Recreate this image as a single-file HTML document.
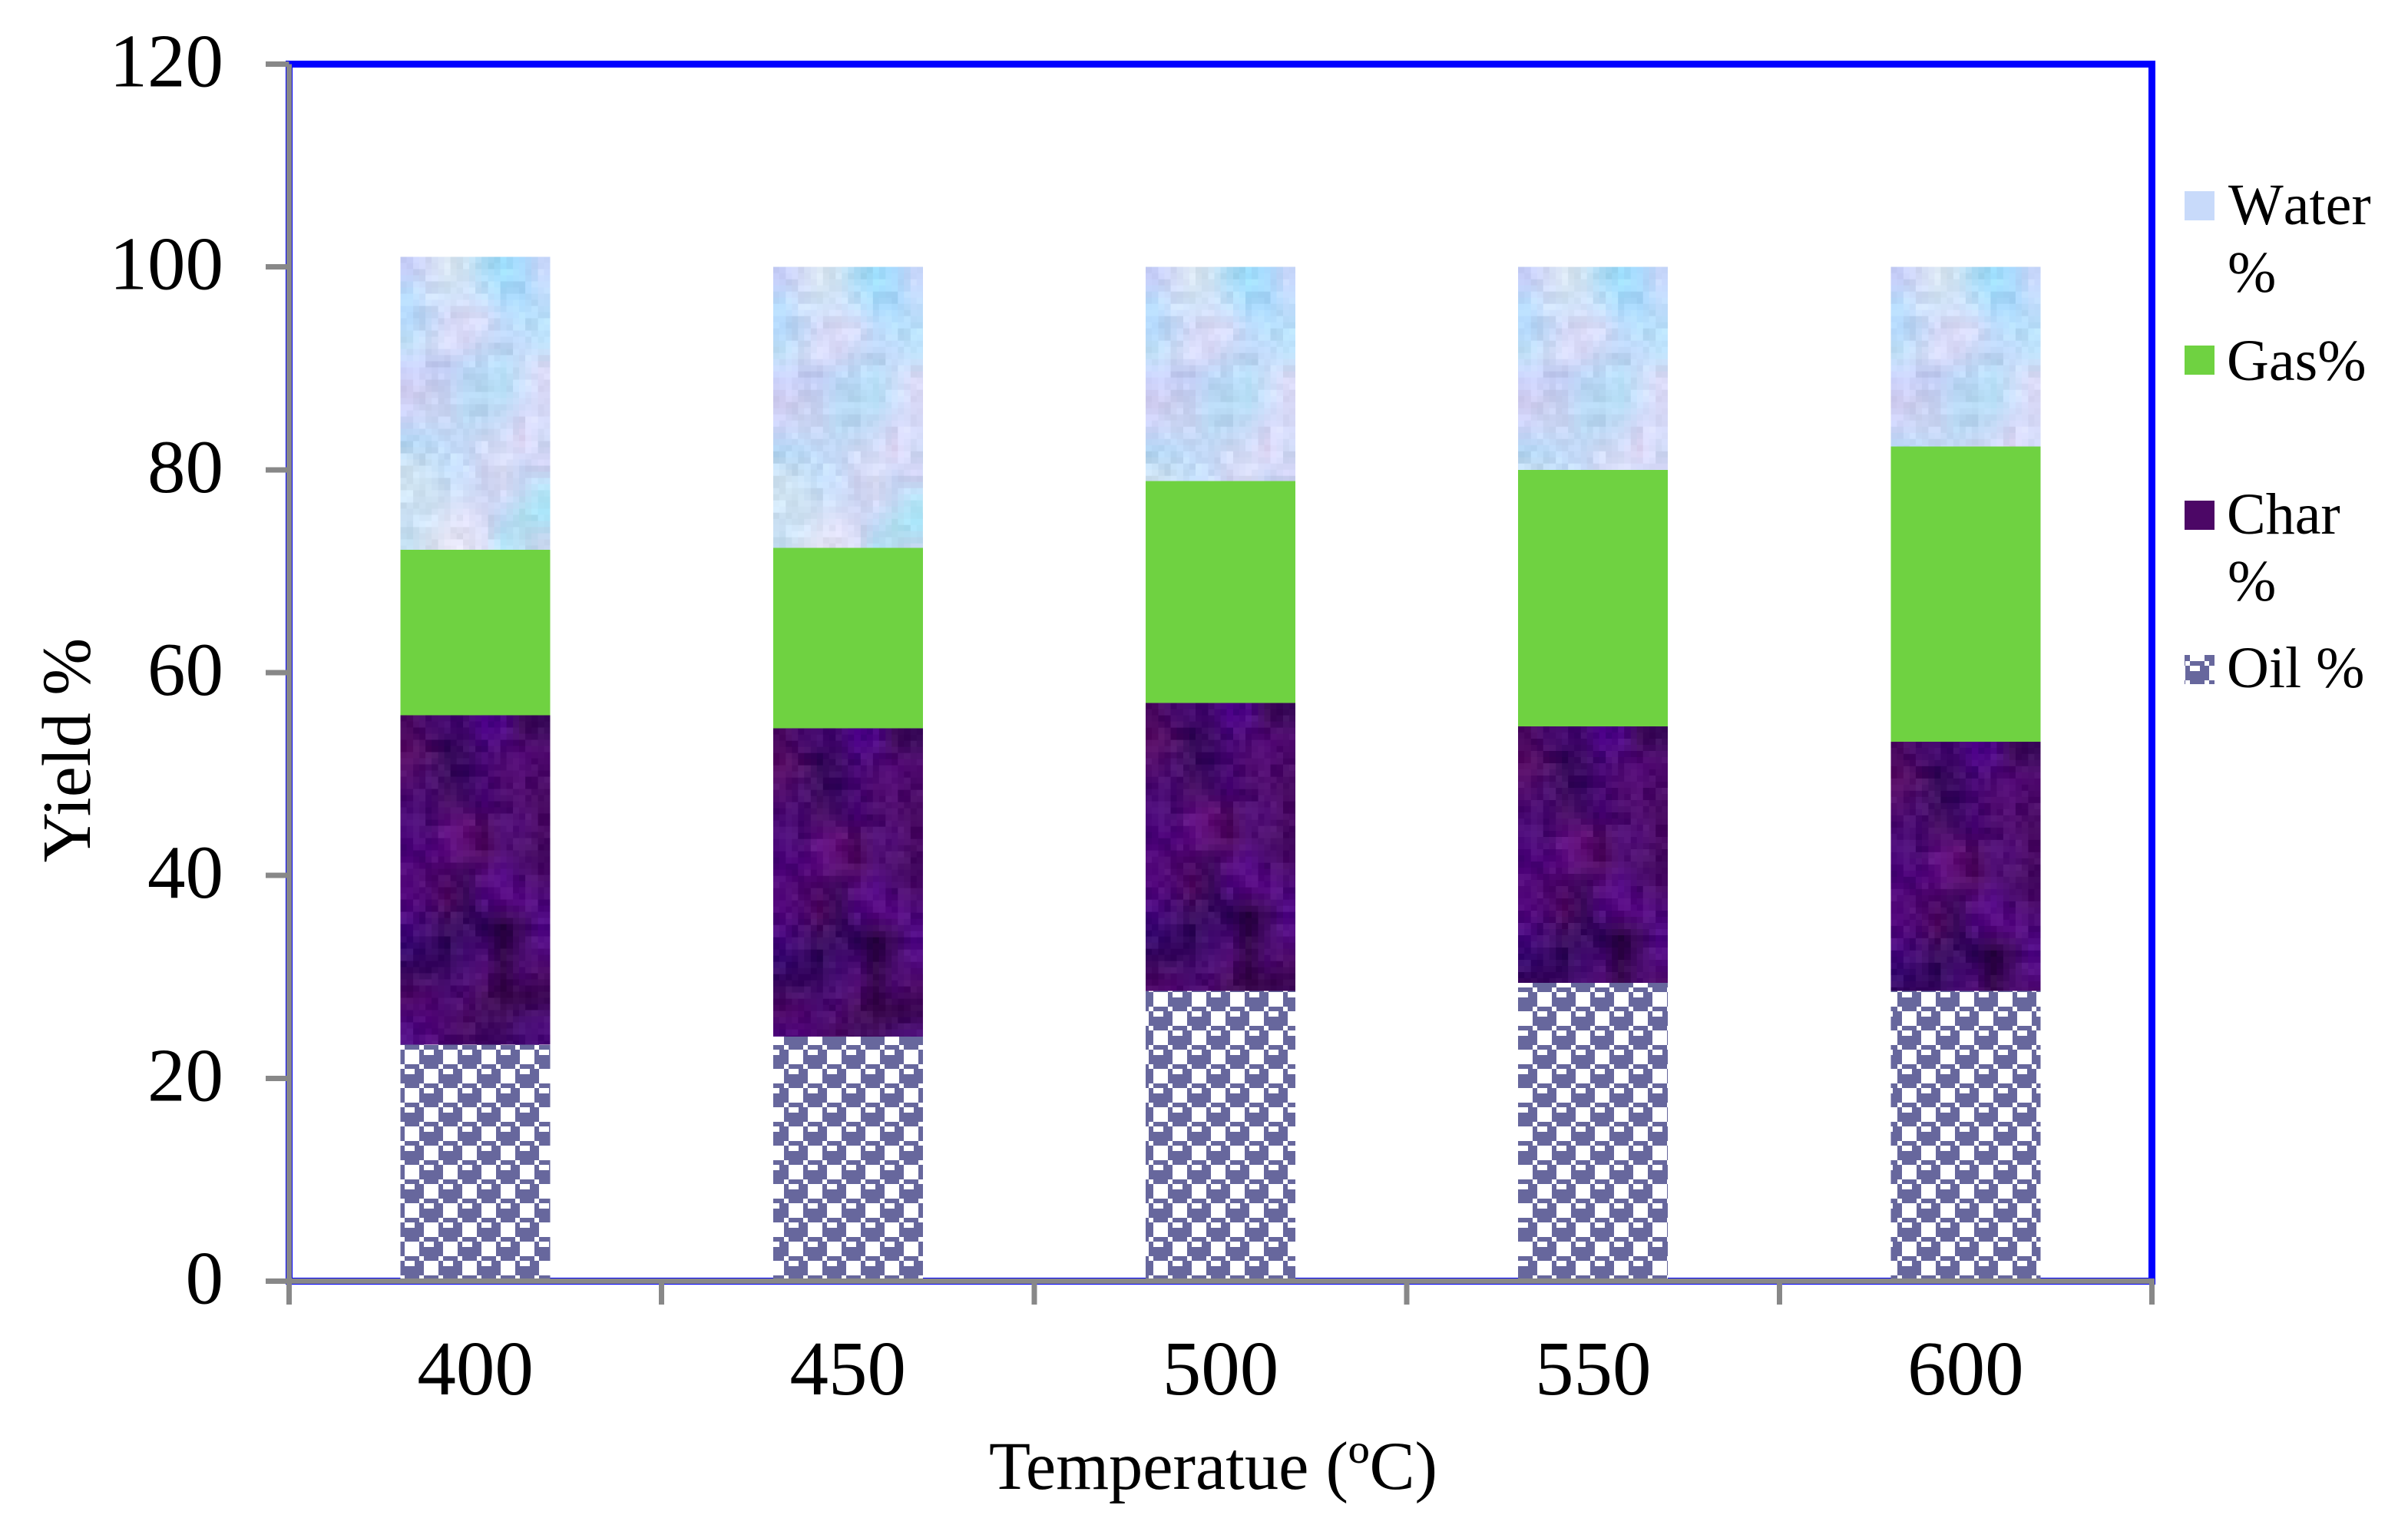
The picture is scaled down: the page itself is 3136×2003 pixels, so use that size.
<!DOCTYPE html>
<html>
<head>
<meta charset="utf-8">
<title>Yield vs Temperature</title>
<style>
html,body{margin:0;padding:0;background:#fff;width:3136px;height:2003px;overflow:hidden}
svg{display:block}
text{font-family:"Liberation Serif",serif;fill:#000}
#legend text{font-kerning:none}
</style>
</head>
<body>
<svg id="chart" xmlns="http://www.w3.org/2000/svg" width="3136" height="2003" viewBox="0 0 3136 2003">
<defs>
<pattern id="oil-fill" patternUnits="userSpaceOnUse" x="46" y="11" width="50" height="50">
<rect width="50" height="50" fill="#fff"/>
<g id="oct-a"><path d="M6 0H25V6H31V25H25V31H6V25H0V6H6Z M6 6V13H19V6Z" fill="#67679d" fill-rule="evenodd"/></g>
<path transform="translate(25,25)" d="M6 0H25V6H31V25H25V31H6V25H0V6H6Z M6 6V13H19V6Z" fill="#67679d" fill-rule="evenodd"/>
<path transform="translate(-25,25)" d="M6 0H25V6H31V25H25V31H6V25H0V6H6Z M6 6V13H19V6Z" fill="#67679d" fill-rule="evenodd"/>
<path transform="translate(25,-25)" d="M6 0H25V6H31V25H25V31H6V25H0V6H6Z M6 6V13H19V6Z" fill="#67679d" fill-rule="evenodd"/>
<path transform="translate(-25,-25)" d="M6 0H25V6H31V25H25V31H6V25H0V6H6Z M6 6V13H19V6Z" fill="#67679d" fill-rule="evenodd"/>
</pattern>
<pattern id="water-fill" patternUnits="userSpaceOnUse" x="0" y="0" width="195" height="384"></pattern>
<pattern id="char-fill" patternUnits="userSpaceOnUse" x="0" y="0" width="195" height="448"></pattern>
</defs>
<rect x="0" y="0" width="3136" height="2003" fill="#fff"/>
<rect x="376.5" y="83.5" width="2426" height="1585" fill="#fff" stroke="#0000ff" stroke-width="9"/>
<g id="bars"></g>
<g id="axes"></g>
<g id="legend">
  <rect x="2845" y="249" width="39" height="38" fill="#c8dafa"/>
  <text x="2902" y="292" font-size="76">Water</text>
  <text x="2901" y="380" font-size="76">%</text>
  <rect x="2845" y="450" width="39" height="38" fill="#6fd241"/>
  <text x="2900" y="495" font-size="76">Gas%</text>
  <rect x="2845" y="652" width="39" height="38" fill="#4c0766"/>
  <text x="2900" y="695" font-size="76">Char</text>
  <text x="2901" y="782" font-size="76">%</text>
  <rect x="2845" y="853" width="39" height="38" fill="url(#oil-fill)"/>
  <text x="2900" y="895" font-size="76">Oil %</text>
</g>
<text x="1580" y="1939" font-size="88.5" text-anchor="middle">Temperatue (ºC)</text>
<text transform="translate(117,977) rotate(-90)" font-size="90" text-anchor="middle">Yield %</text>
</svg>
<script>
const categories = ["400", "450", "500", "550", "600"];
const oilValues = [23.3, 24.1, 28.6, 29.4, 28.6];
const charValues = [32.5, 30.4, 28.4, 25.3, 24.6];
const gasValues = [16.3, 17.8, 21.9, 25.3, 29.1];
const waterValues = [28.9, 27.7, 21.1, 20.0, 17.7];
const yTickLabels = [0, 20, 40, 60, 80, 100, 120];

const NS = "http://www.w3.org/2000/svg";
const plotLeft = 376.5, plotRight = 2802.5, plotTop = 83.5, plotBottom = 1668.5;
const yMax = 120, barWidth = 195;

function xBand(i) { return plotLeft + (plotRight - plotLeft) * (i + 0.5) / categories.length; }
function xEdge(i) { return plotLeft + (plotRight - plotLeft) * i / categories.length; }
function yPos(v) { return plotBottom - (plotBottom - plotTop) * v / yMax; }

/* Decorative mosaic textures for the picture-filled series */
const waterTexture = [
"c8d0fa d0d8f4 d8e4f0 cfe4f4 a8d8f2 a0e0ff a8d8fc c8d8fc",
"b8dcfc cfe0fa d0e4f8 d0e0f8 c0e0fb a6d8fa a8d8fc c0dcfc",
"b0d4f8 b8d0f0 d0d4f4 dcdcf8 d8dcfa c0dcfc b8e0fc b8e0fc",
"c4e4fa d0e0fa dcdffa d0d0f0 c8d8f6 bcd4f4 bcd4f4 bce0f8",
"c8d0f8 c4ccf4 bcc8f0 bcd8f8 bcdcfa b0d8f0 cce0fa dcdcf8",
"d4d0f4 c8ccec c4d0f0 b4d4f0 b8dcf4 b0d8f0 c8dcf8 d8d8f6",
"ccd4f8 d0dcfa ccd8f6 bcdcf6 b8d4f0 c4d8f4 d4d8f8 d8dcfa",
"b4d8f6 bcdcfa c4dcfa c8dcfa d4dffa d4dcf8 e0d8f6 d0daf6",
"d0e4f4 c4dcf0 c0dcf8 c8dcfa d4d8f6 dce0f8 c8d4f4 d4d4f6",
"d4e8f6 d0e4f4 cce0f6 d0e0fa ccd4f2 d8dcf8 c4d8f4 b4e4f6",
"cce2f6 d0e4f6 dce4f8 dcdcf4 d0d4f0 c4dcfa b0e0f0 a8e4f8",
"c4e0f2 d8e4f4 e4e4f4 e4e4f6 d8dcf4 b4e4f8 bce0f4 c8d8f0"
];
const charTexture = [
"4c0a62 45086a 40056a 42086e 4c0088 500888 3c0858 3a0a5a",
"550a62 4a0a60 300554 3c0a62 420070 4c0a72 550a78 500a70",
"500a6a 4c1070 3a0a5c 360560 45056e 500a70 4f0870 4a0a68",
"4a0a72 480a70 440a60 3c0560 440070 480a6a 4a0668 44065e",
"4a0878 480a70 601080 641078 4c0a60 4c0a72 54107a 4c0a66",
"4a0078 4c0078 5c0a80 580a70 500a60 4c0a70 480a68 42085e",
"540a7c 500a70 4c0a68 400a60 5a1080 550a88 4a0a70 4a0a68",
"560a80 500a74 500a60 401060 500a80 560880 5a0a88 4e0a7a",
"4a0a80 440a70 3a0a5c 36085e 300558 2c0044 400a60 520a88",
"380a70 3a0a68 300a5a 420a70 460a70 300448 4c1070 520a80",
"3c0a60 3a0a60 400a68 450a70 500a72 3a0a50 4c0a70 4c0a66",
"500a68 540a72 480a70 4e0a70 420a58 360548 3c0a50 3e0a56",
"500a80 560a80 4e0a70 480a60 400a60 420a60 440a70 4a0a78",
"4c0a82 540a80 4a0a70 460a68 420a68 400a68 440a74 4a0a7a"
];
function cellNoise(c, r, k) {
  const s = Math.sin(c * 12.9898 + r * 78.233 + k * 37.719) * 43758.5453;
  return s - Math.floor(s);
}
function buildTexture(id, rowsText, amp) {
  const pat = document.getElementById(id);
  const rows = rowsText.map(function (t) {
    return t.split(" ").map(function (h) {
      return [parseInt(h.slice(0, 2), 16), parseInt(h.slice(2, 4), 16), parseInt(h.slice(4, 6), 16)];
    });
  });
  const cols = 24, nRows = rows.length * 4, cw = 195 / cols, ch = 8;
  for (let r = 0; r < nRows; r++) {
    for (let c = 0; c < cols; c++) {
      const fx = Math.min((c + 0.5) / 3 - 0.5, 6.999), fy = Math.min((r + 0.5) / 4 - 0.5, rows.length - 1.001);
      const x0 = Math.max(0, Math.floor(fx)), y0 = Math.max(0, Math.floor(fy));
      const tx = Math.max(0, fx - x0), ty = Math.max(0, fy - y0);
      const block = (cellNoise(Math.floor(c / 2), Math.floor(r / 2), 5) - 0.5) * amp;
      const fine = (cellNoise(c, r, 1) - 0.5) * amp * 0.5;
      const rgb = [0, 1, 2].map(function (k) {
        const a = rows[y0][x0][k] * (1 - tx) + rows[y0][x0 + 1][k] * tx;
        const b = rows[y0 + 1][x0][k] * (1 - tx) + rows[y0 + 1][x0 + 1][k] * tx;
        return Math.max(0, Math.min(255, Math.round(a * (1 - ty) + b * ty + block + fine)));
      });
      const cell = document.createElementNS(NS, "rect");
      cell.setAttribute("x", c * cw);
      cell.setAttribute("y", r * ch);
      cell.setAttribute("width", cw + 0.5);
      cell.setAttribute("height", ch + 0.5);
      cell.setAttribute("fill", "rgb(" + rgb.join(",") + ")");
      cell.setAttribute("shape-rendering", "crispEdges");
      pat.appendChild(cell);
    }
  }
}
buildTexture("water-fill", waterTexture, 18);
buildTexture("char-fill", charTexture, 22);

/* Bars */
const barsGroup = document.getElementById("bars");
function addSegment(catIndex, seriesName, base, value, fill, anchored) {
  const left = xBand(catIndex) - barWidth / 2;
  const top = yPos(base + value);
  const h = yPos(base) - top;
  const el = document.createElementNS(NS, "rect");
  
  
  if (anchored) {
    el.setAttribute("transform", "translate(" + left + "," + top + ")");
    el.setAttribute("x", 0);
    el.setAttribute("y", 0);
  } else {
    el.setAttribute("x", left);
    el.setAttribute("y", top);
  }
  el.setAttribute("width", barWidth);
  el.setAttribute("height", h);
  el.setAttribute("fill", fill);
  el.setAttribute("shape-rendering", "crispEdges");
  barsGroup.appendChild(el);
}
categories.forEach(function (c, i) {
  let base = 0;
  addSegment(i, "oil", base, oilValues[i], "url(#oil-fill)", false);
  base += oilValues[i];
  addSegment(i, "char", base, charValues[i], "url(#char-fill)", true);
  base += charValues[i];
  addSegment(i, "gas", base, gasValues[i], "#6fd241", false);
  base += gasValues[i];
  addSegment(i, "water", base, waterValues[i], "url(#water-fill)", true);
});

/* Axes */
const axes = document.getElementById("axes");
function addLine(name, x1, y1, x2, y2) {
  const l = document.createElementNS(NS, "line");
  
  
  l.setAttribute("x1", x1);
  l.setAttribute("y1", y1);
  l.setAttribute("x2", x2);
  l.setAttribute("y2", y2);
  l.setAttribute("stroke", "#888888");
  l.setAttribute("stroke-width", 7);
  l.setAttribute("shape-rendering", "crispEdges");
  axes.appendChild(l);
}
addLine("y-axis-line", plotLeft, plotTop, plotLeft, plotBottom);
addLine("x-axis-line", plotLeft, plotBottom, plotRight + 3.5, plotBottom);
yTickLabels.forEach(function (v) {
  const y = yPos(v);
  addLine("y-tick-" + v, 346, y, plotLeft, y);
  const t = document.createElementNS(NS, "text");
  
  
  t.setAttribute("x", 291);
  t.setAttribute("y", y + 29);
  t.setAttribute("font-size", 99);
  t.setAttribute("text-anchor", "end");
  t.textContent = v;
  axes.appendChild(t);
});
for (let i = 0; i <= categories.length; i++) {
  addLine("x-tick-" + i, xEdge(i), plotBottom, xEdge(i), 1699);
}
categories.forEach(function (c, i) {
  const t = document.createElementNS(NS, "text");
  
  
  t.setAttribute("x", xBand(i));
  t.setAttribute("y", 1816);
  t.setAttribute("font-size", 101);
  t.setAttribute("text-anchor", "middle");
  t.textContent = c;
  axes.appendChild(t);
});
</script>
</body>
</html>
